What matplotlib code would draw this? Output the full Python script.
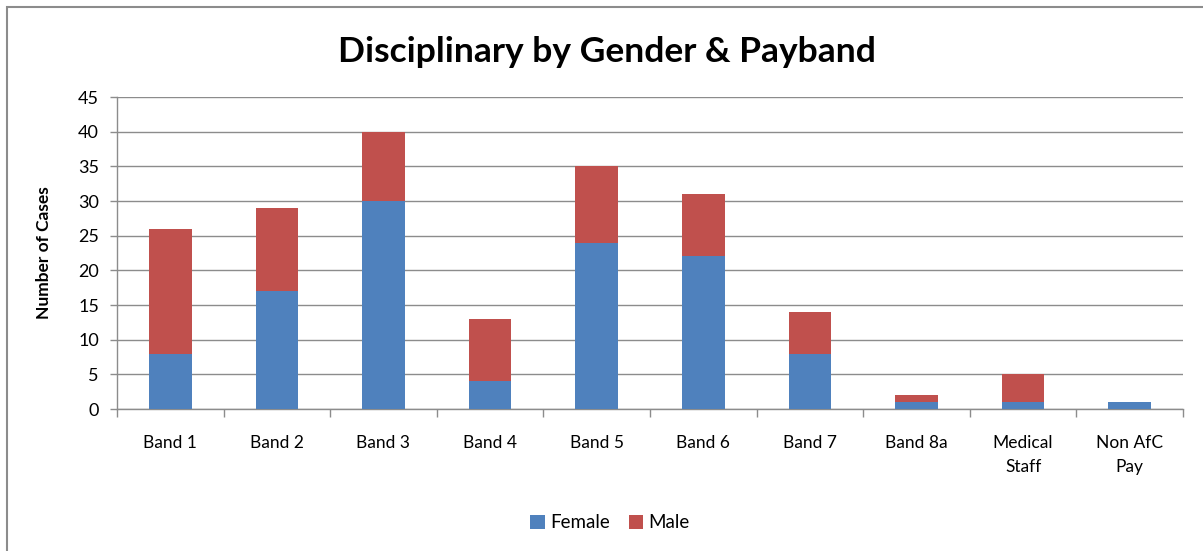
import matplotlib
matplotlib.use("Agg")
import matplotlib.pyplot as plt
from matplotlib.patches import Rectangle, Patch
import numpy as np

categories = ["Band 1", "Band 2", "Band 3", "Band 4", "Band 5", "Band 6",
              "Band 7", "Band 8a", "Medical\nStaff", "Non AfC\nPay"]
female = [8, 17, 30, 4, 24, 22, 8, 1, 1, 1]
male = [18, 12, 10, 9, 11, 9, 6, 1, 4, 0]
series_names = ["Female", "Male"]
colors = ["#4F81BD", "#C0504D"]
yticks = [0, 5, 10, 15, 20, 25, 30, 35, 40, 45]

plt.rcParams['font.family'] = ['Lato', 'DejaVu Sans']

fig = plt.figure(figsize=(12.03, 5.51), dpi=100)
fig.patch.set_facecolor("white")

# outer chart border
fig.patches.append(Rectangle((7/1203, -0.05), 1.2, 1 - 7/551 + 0.05,
                             transform=fig.transFigure, fill=False,
                             edgecolor="#8c8c8c", linewidth=1.5))

ax = fig.add_axes([117/1203, 1 - 409/551, (1183 - 117)/1203, (409 - 97)/551])
x = np.arange(len(categories))
ax.bar(x, female, width=0.4, color=colors[0], label=series_names[0], zorder=3)
ax.bar(x, male, width=0.4, bottom=female, color=colors[1], label=series_names[1], zorder=3)

ax.set_xlim(-0.5, len(categories) - 0.5)
ax.set_ylim(0, 45)
ax.set_yticks(yticks)
ax.yaxis.grid(True, color="#8c8c8c", linewidth=1)
ax.set_axisbelow(True)

ax.set_xticks(x)
ax.set_xticklabels(categories, fontsize=12.5, linespacing=1.55)
ax.tick_params(axis='x', length=0, pad=19)
ax.set_xticks(np.arange(-0.5, len(categories)), minor=True)
ax.tick_params(axis='x', which='minor', length=6, color="#8c8c8c", width=1)
ax.tick_params(axis='y', length=5, color="#8c8c8c", width=1, labelsize=13, pad=8)

for s in ["top", "right"]:
    ax.spines[s].set_visible(False)
for s in ["left", "bottom"]:
    ax.spines[s].set_color("#8c8c8c")
    ax.spines[s].set_linewidth(1)

ax.set_ylabel("Number of Cases", fontsize=12.5, fontweight="bold")
ax.yaxis.set_label_coords(-0.061, 0.5)

fig.text(607/1203, 1 - 52/551, "Disciplinary by Gender & Payband", ha="center", va="center",
         fontsize=25.5, fontweight="bold")

handles = [Patch(facecolor=c, label=n) for c, n in zip(colors, series_names)]
fig.legend(handles=handles, loc="center", bbox_to_anchor=(610/1203, 1 - 523/551), ncol=2,
           frameon=False, fontsize=13.5, handlelength=0.75, handleheight=0.75,
           handletextpad=0.3, columnspacing=1.0)

fig.savefig("out.png", dpi=100)
